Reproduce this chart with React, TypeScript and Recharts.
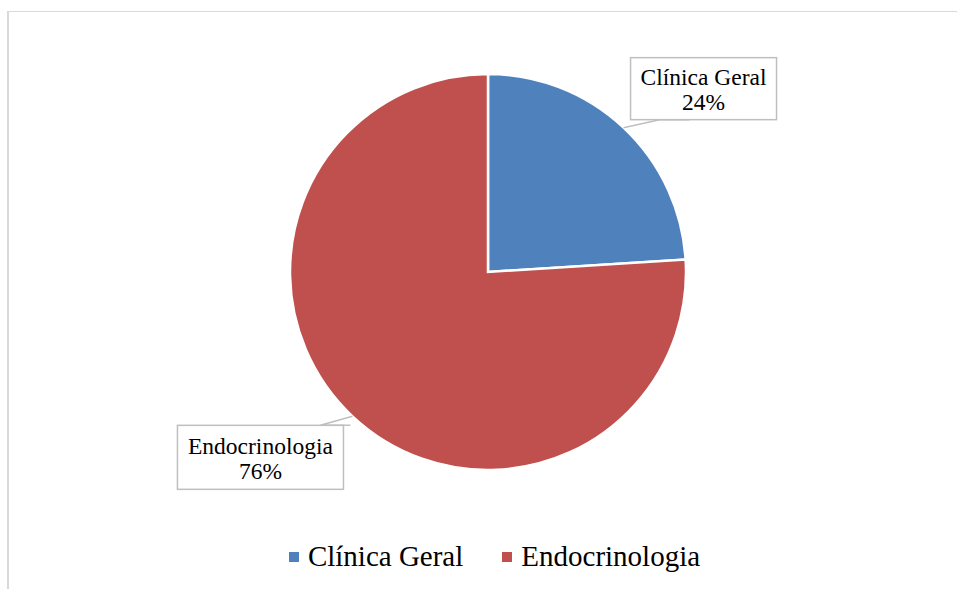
import React from 'react';
import { PieChart, Pie, Cell, Legend } from 'recharts';

const categories = ['Clínica Geral', 'Endocrinologia'];
const shares = [24, 76];
const colors = ['#4F81BD', '#C0504D'];

const pieData = categories.map((name, i) => ({ name, value: shares[i] }));

const FONT = '"Liberation Serif", "Times New Roman", serif';
const RAD = Math.PI / 180;

// callout box placement relative to the slice's edge point
const callouts = [
  { dx: 80, dy: -39, w: 146, h: 62, tx: 36, l1: -3.5, l2: 21.5 },
  { dx: -92, dy: 41, w: 166, h: 64, tx: -32, l1: -3, l2: 22 },
];

const renderCallout = (props: any) => {
  const { cx, cy, midAngle, outerRadius, index, name, percent } = props;
  const ex = cx + outerRadius * Math.cos(-midAngle * RAD);
  const ey = cy + outerRadius * Math.sin(-midAngle * RAD);
  const c = callouts[index];
  const bx = ex + c.dx;
  const by = ey + c.dy;
  const top = by - c.h / 2;
  const bottom = by + c.h / 2;
  const edgeY = c.dy < 0 ? bottom : top;
  return (
    <g key={`lbl-${index}`}>
      <polyline
        points={`${ex},${ey} ${ex + c.tx},${edgeY} ${ex + c.tx + 30},${edgeY}`}
        fill="none"
        stroke="#bfbfbf"
        strokeWidth={1.5}
      />
      <rect x={bx - c.w / 2} y={top} width={c.w} height={c.h} fill="#fff" stroke="#bfbfbf" strokeWidth={1.5} />
      <text x={bx} y={by + c.l1} textAnchor="middle" fontFamily={FONT} fontSize={23.5} fill="#000">
        {name}
      </text>
      <text x={bx} y={by + c.l2} textAnchor="middle" fontFamily={FONT} fontSize={23.5} fill="#000">
        {`${Math.round(percent * 100)}%`}
      </text>
    </g>
  );
};

const LegendContent = ({ payload }: any) => (
  <div style={{ display: 'flex', justifyContent: 'center', gap: 39, fontFamily: FONT, fontSize: 29, color: '#000' }}>
    {(payload || []).map((p: any, i: number) => (
      <div key={i} style={{ display: 'flex', alignItems: 'center' }}>
        <span style={{ width: 10, height: 10, background: p.color, marginRight: 9, display: 'inline-block' }} />
        <span>{p.value}</span>
      </div>
    ))}
  </div>
);

export default function App() {
  return (
    <div style={{ position: 'absolute', left: 0, top: 0, width: 957, height: 589, background: '#fff', overflow: 'hidden' }}>
      <div
        style={{
          position: 'absolute',
          left: 7,
          top: 11,
          width: 960,
          height: 600,
          borderTop: '1.5px solid #d9d9d9',
          borderLeft: '2px solid #d9d9d9',
        }}
      />
      <div style={{ position: 'absolute', left: 0, top: 0 }}>
        <PieChart width={957} height={589} margin={{ top: 0, right: 0, bottom: 0, left: 0 }}>
          <Pie
            data={pieData}
            dataKey="value"
            nameKey="name"
            cx={488}
            cy={272}
            outerRadius={198}
            startAngle={90}
            endAngle={-270}
            stroke="#fff"
            strokeWidth={2.5}
            label={renderCallout}
            labelLine={false}
            isAnimationActive={false}
          >
            {pieData.map((d, i) => (
              <Cell key={d.name} fill={colors[i]} />
            ))}
          </Pie>
          <Legend
            content={<LegendContent />}
            wrapperStyle={{ position: 'absolute', left: 16, top: 540, width: 957 }}
          />
        </PieChart>
      </div>
    </div>
  );
}
